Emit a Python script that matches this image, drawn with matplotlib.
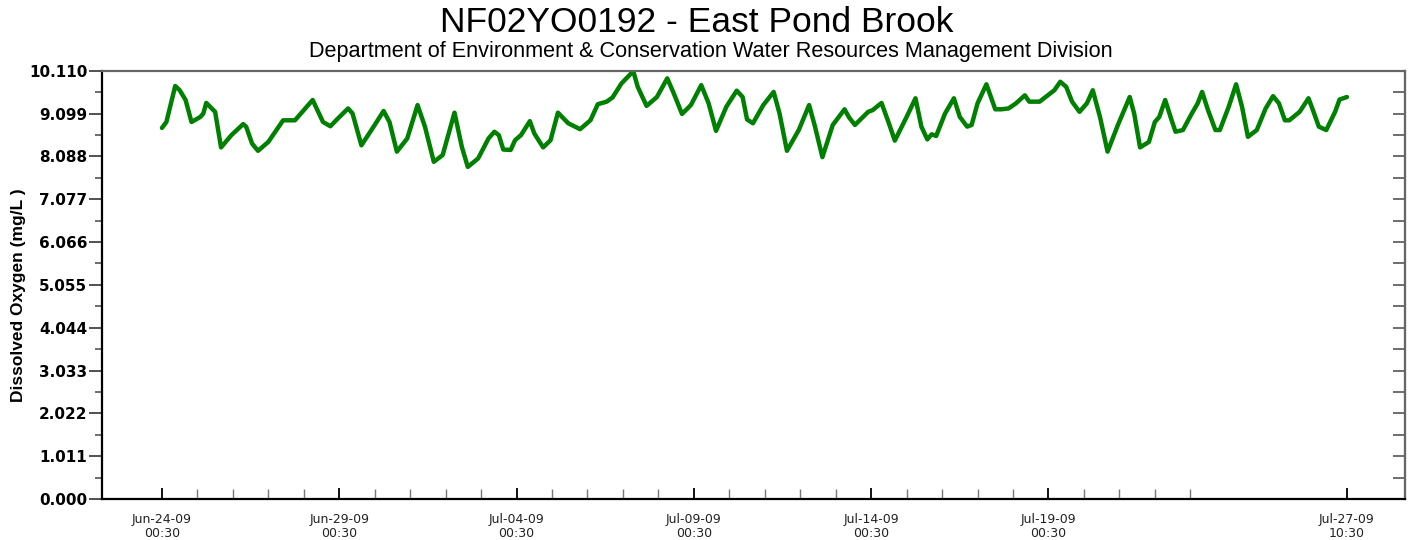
import numpy as np
import matplotlib.pyplot as plt
from datetime import datetime, timedelta

# hourly offsets from first reading (Jun-24-09 00:30) and dissolved oxygen values
hours = [0, 3, 9, 12, 16, 20, 26, 28, 30, 36, 40, 47, 55, 57, 61, 65, 72, 82, 90,
         102, 109, 114, 119, 126, 129, 135, 144, 150, 154, 159, 166, 173, 178, 184,
         190, 198, 203, 207, 214, 221, 225, 228, 231, 236, 239, 243, 249, 252, 258,
         263, 268, 275, 283, 290, 295, 301, 305, 311, 319, 322, 328, 335, 342, 346,
         352, 358, 365, 370, 375, 382, 389, 393, 396, 400, 407, 414, 418, 423, 431,
         438, 442, 447, 454, 462, 465, 469, 478, 481, 487, 492, 496, 504, 510, 514,
         518, 521, 524, 530, 536, 540, 545, 548, 552, 558, 564, 568, 573, 578, 584,
         587, 594, 601, 604, 608, 612, 616, 621, 626, 630, 635, 640, 647, 655, 658,
         662, 668, 672, 675, 679, 683, 686, 691, 697, 701, 704, 708, 713, 716, 722,
         727, 731, 735, 741, 747, 752, 756, 760, 763, 770, 776, 779, 783, 788, 794,
         797, 802]
do_mgl = [8.76, 8.90, 9.75, 9.65, 9.42, 8.90, 9.02, 9.10, 9.35, 9.14, 8.30, 8.59,
          8.85, 8.79, 8.39, 8.22, 8.43, 8.94, 8.94, 9.42, 8.90, 8.80, 8.98, 9.22,
          9.10, 8.35, 8.83, 9.16, 8.90, 8.20, 8.51, 9.30, 8.79, 7.96, 8.12, 9.12,
          8.31, 7.84, 8.04, 8.51, 8.67, 8.59, 8.25, 8.24, 8.47, 8.59, 8.92, 8.63,
          8.30, 8.47, 9.12, 8.87, 8.73, 8.94, 9.32, 9.38, 9.48, 9.81, 10.10, 9.73,
          9.28, 9.49, 9.93, 9.61, 9.09, 9.30, 9.77, 9.34, 8.69, 9.26, 9.64, 9.49,
          8.96, 8.87, 9.30, 9.61, 9.10, 8.22, 8.71, 9.30, 8.79, 8.07, 8.83, 9.20,
          9.01, 8.83, 9.14, 9.18, 9.35, 8.87, 8.46, 9.02, 9.46, 8.79, 8.49, 8.61,
          8.57, 9.10, 9.46, 9.02, 8.79, 8.83, 9.34, 9.79, 9.20, 9.20, 9.22, 9.34,
          9.53, 9.38, 9.38, 9.57, 9.65, 9.85, 9.73, 9.38, 9.14, 9.34, 9.65, 9.00,
          8.20, 8.83, 9.49, 9.10, 8.30, 8.43, 8.90, 9.02, 9.42, 8.98, 8.67, 8.71,
          9.10, 9.34, 9.61, 9.18, 8.71, 8.71, 9.26, 9.79, 9.26, 8.55, 8.71, 9.22,
          9.51, 9.34, 8.94, 8.94, 9.14, 9.46, 9.18, 8.79, 8.71, 9.14, 9.43, 9.49]

start = datetime(2009, 6, 24, 0, 30)
end = datetime(2009, 7, 27, 10, 30)
label_dates = [start + timedelta(days=d) for d in (0, 5, 10, 15, 20, 25)] + [end]
day_ticks = [start + timedelta(days=d) for d in range(1, 30) if d % 5 != 0]

y_max = 10.110
y_step = 1.011

times = [start + timedelta(hours=h) for h in hours]

fig = plt.figure(figsize=(14.11, 5.40), dpi=100)
ax = fig.add_axes([0.0723, 0.0759, 0.9235, 0.7931])

ax.plot(times, do_mgl, color='#008000', lw=3.2, solid_capstyle='round',
        solid_joinstyle='round')

ax.set_xlim(start - timedelta(days=1.69), end + timedelta(days=1.64))
ax.set_ylim(0, y_max)

# left axis: labelled majors plus half-step minors, pointing out
major_y = np.arange(11) * y_step
ax.set_yticks(major_y)
ax.set_yticklabels([f"{v:.3f}" for v in major_y], fontsize=11, fontweight='bold',
                   family='DejaVu Sans')
ax.set_yticks(major_y[:-1] + y_step / 2, minor=True)
ax.tick_params(axis='y', which='major', direction='out', length=9.5, width=1.2,
               color='#333333', pad=1)
ax.tick_params(axis='y', which='minor', direction='out', length=5, width=1.2,
               color='#555555')

# right side ticks at every half step, pointing in
sec = ax.secondary_yaxis('right')
sec.set_yticks(np.arange(1, 20) * y_step / 2)
sec.tick_params(direction='in', length=8.5, width=1.2, color='#555555',
                labelright=False)
sec.spines['right'].set_color('#666666')
sec.spines['right'].set_linewidth(1.5)

# date ticks along the bottom
ax.set_xticks(label_dates)
ax.set_xticklabels([d.strftime('%b-%d-%y') + '\n' + d.strftime('%H:%M')
                    for d in label_dates], fontsize=9, color='#222222',
                   linespacing=1.15)
ax.set_xticks(day_ticks, minor=True)
ax.tick_params(axis='x', which='major', direction='in', length=8, width=1.3,
               color='black', pad=10)
ax.tick_params(axis='x', which='minor', direction='in', length=7.5, width=1.0,
               color='#777777')

for side in ('left', 'bottom'):
    ax.spines[side].set_color('black')
    ax.spines[side].set_linewidth(1.6)
for side in ('top', 'right'):
    ax.spines[side].set_color('#666666')
    ax.spines[side].set_linewidth(1.6)

ax.set_ylabel('Dissolved Oxygen (mg/L )', fontsize=12.5, fontweight='bold',
              family='Liberation Sans')
ax.yaxis.set_label_coords(-0.0585, 0.475)

fig.text(0.494, 0.958, 'NF02YO0192 - East Pond Brook', ha='center', va='center',
         fontsize=25.5, family='Liberation Sans')
fig.text(0.504, 0.905,
         'Department of Environment & Conservation Water Resources Management Division',
         ha='center', va='center', fontsize=15.6, family='Liberation Sans')

fig.savefig('out.png', dpi=100, facecolor='white')
